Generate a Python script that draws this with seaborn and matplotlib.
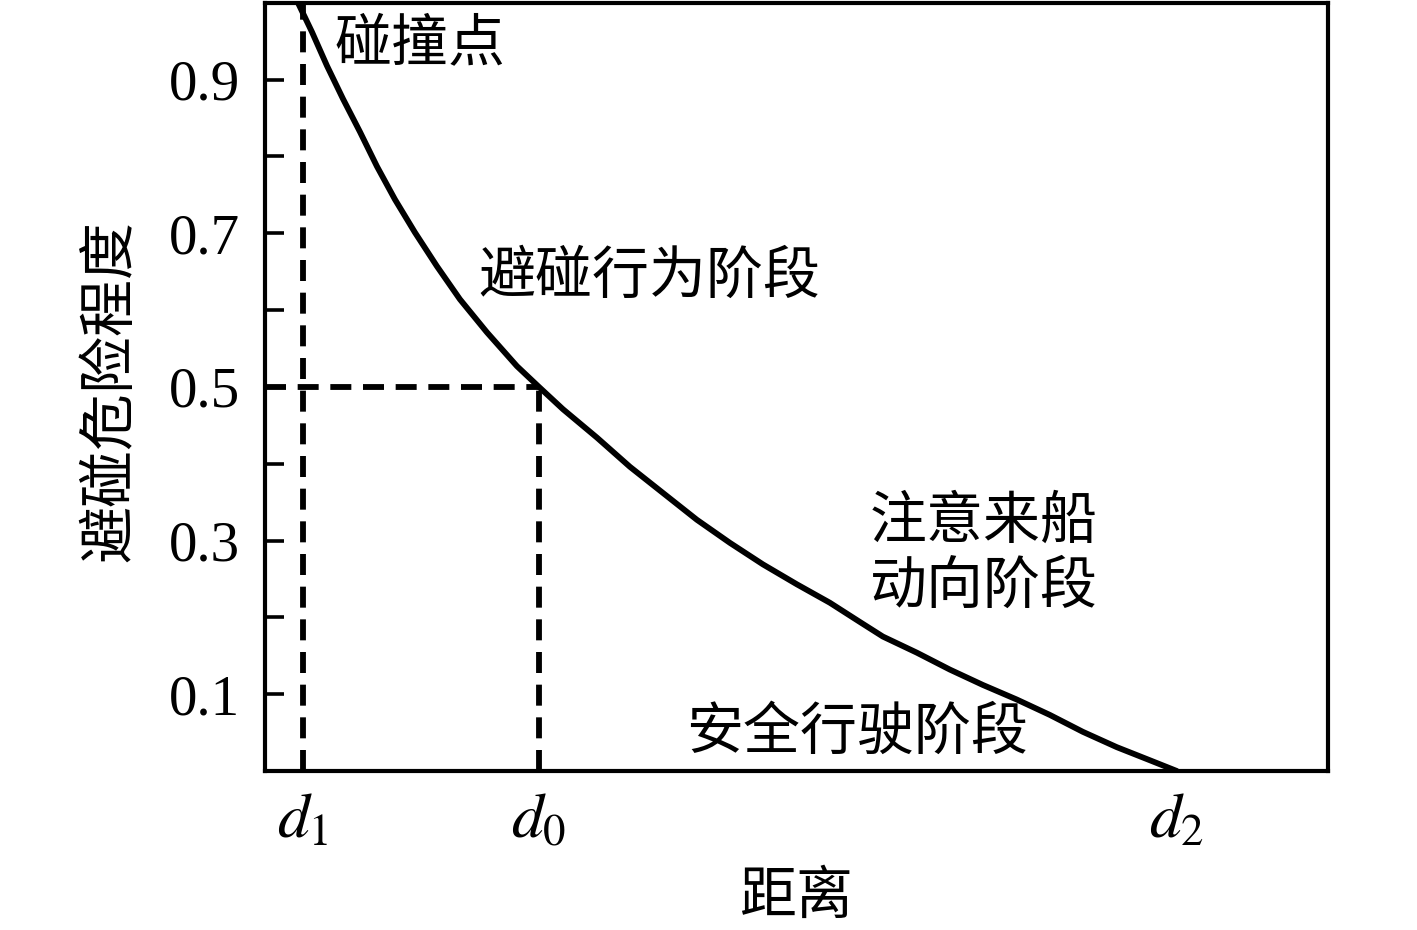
import numpy as np
import pandas as pd
import matplotlib
matplotlib.use("Agg")
import matplotlib.pyplot as plt
import seaborn as sns

# distance (arbitrary units) and collision risk
distance = [0.33, 0.47, 0.62, 0.78, 0.95, 1.12, 1.30, 1.50, 1.72, 1.95,
            2.22, 2.52, 2.74, 2.98, 3.32, 3.65, 3.98, 4.32, 4.65, 4.98,
            5.32, 5.65, 5.95, 6.18, 6.52, 6.85, 7.18, 7.52, 7.85, 8.18,
            8.52, 8.85, 9.12]
risk = [1.00, 0.962, 0.918, 0.875, 0.832, 0.787, 0.744, 0.701, 0.657, 0.614,
        0.571, 0.527, 0.500, 0.471, 0.434, 0.396, 0.362, 0.327, 0.297, 0.269,
        0.243, 0.219, 0.194, 0.175, 0.154, 0.132, 0.112, 0.093, 0.073, 0.051,
        0.031, 0.014, 0.0]

d1, d0, d2 = 0.38, 2.74, 9.12
risk_d0 = 0.5
x_ticks = [d1, d0, d2]
x_labels = ["$d_1$", "$d_0$", "$d_2$"]
y_major = [0.1, 0.3, 0.5, 0.7, 0.9]
y_minor = [0.2, 0.4, 0.6, 0.8]

sns.set_style("ticks")
plt.rcParams["font.family"] = ["Liberation Serif", "Noto Sans CJK SC", "DejaVu Sans"]
plt.rcParams["mathtext.fontset"] = "stix"
plt.rcParams["text.color"] = "black"
plt.rcParams["axes.labelcolor"] = "black"
plt.rcParams["xtick.color"] = "black"
plt.rcParams["ytick.color"] = "black"
plt.rcParams["lines.linewidth"] = 4.2

cjk = ["Noto Sans CJK SC", "DejaVu Sans"]
lw = 4.2

fig = plt.figure(figsize=(14.17, 9.30), dpi=100)
ax = fig.add_axes([0.187, 0.171, 0.750, 0.826])

df = pd.DataFrame({"距离": distance, "风险": risk})
sns.lineplot(data=df, x="距离", y="风险", color="black", lw=lw,
             sort=False, estimator=None, ax=ax)

dash = (3.6, 2.0)
sns.lineplot(x=[d1, d1], y=[0, 1.0], color="black", ax=ax, lw=lw,
             estimator=None, sort=False)
sns.lineplot(x=[d0, d0], y=[0, risk_d0], color="black", ax=ax, lw=lw,
             estimator=None, sort=False)
sns.lineplot(x=[0, d0], y=[risk_d0, risk_d0], color="black", lw=lw,
             ax=ax, estimator=None, sort=False)

# curve solid, guide lines dashed
for i, line in enumerate(ax.lines):
    line.set_linewidth(lw)
    line.set_solid_joinstyle("round")
    line.set_dash_capstyle("butt")
    if i > 0:
        line.set_linestyle((0, dash))

ax.set_xlim(0, 10.63)
ax.set_ylim(0, 1.0)

ax.set_xticks(x_ticks)
ax.set_xticklabels(x_labels, fontsize=46)
ax.tick_params(axis="x", length=0, pad=16)

ax.set_yticks(y_major)
ax.set_yticks(y_minor, minor=True)
ax.set_yticklabels([f"{v:.1f}" for v in y_major], fontsize=41)
ax.tick_params(axis="y", which="both", direction="in", length=14,
               width=2.6, pad=18)

for sp in ax.spines.values():
    sp.set_linewidth(3.0)
    sp.set_color("black")

ax.set_xlabel("距离", fontsize=41, family=cjk)
ax.set_ylabel("避碰危险程度", fontsize=41, family=cjk)
ax.xaxis.set_label_coords(0.5, -0.125)
ax.yaxis.set_label_coords(-0.118, 0.495)

ax.text(0.70, 0.947, "碰撞点", fontsize=41, family=cjk, ha="left", va="center")
ax.text(2.13, 0.644, "避碰行为阶段", fontsize=41, family=cjk, ha="left", va="center")
ax.text(6.05, 0.282, "注意来船\n动向阶段", fontsize=41, family=cjk, ha="left",
        va="center", linespacing=1.15)
ax.text(4.21, 0.050, "安全行驶阶段", fontsize=41, family=cjk, ha="left", va="center")

fig.savefig("out.png", dpi=100)
